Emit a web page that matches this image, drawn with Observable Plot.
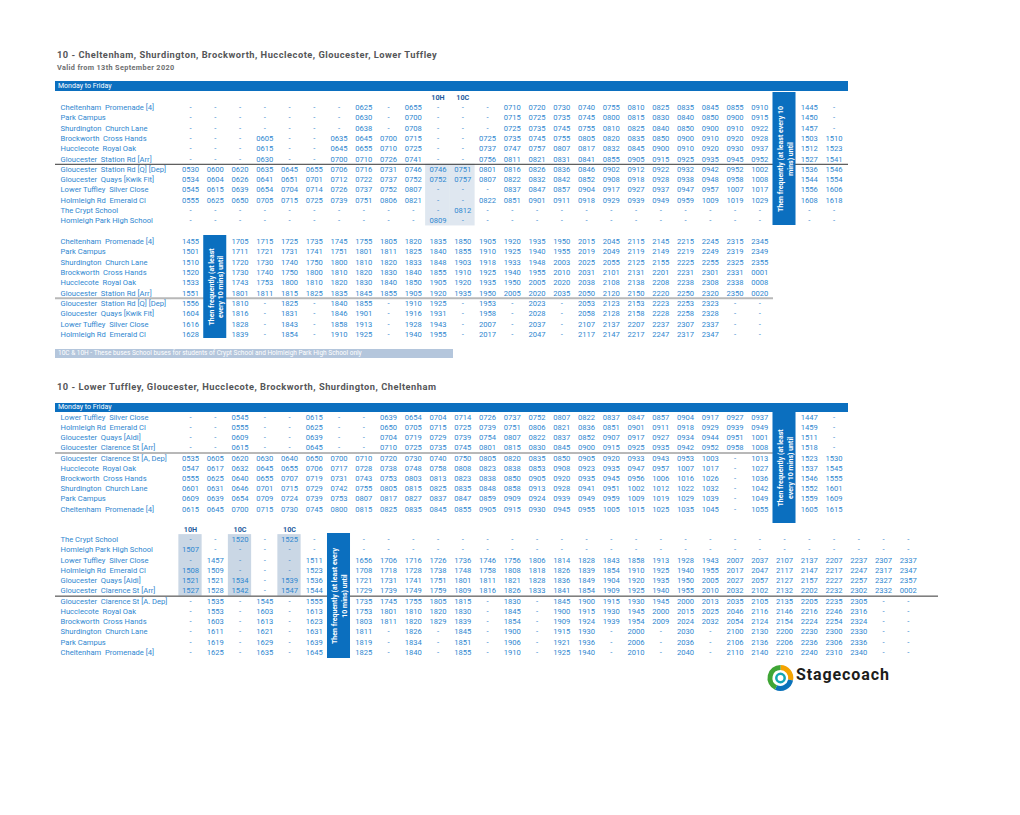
<!DOCTYPE html>
<html><head><meta charset="utf-8">
<script src="https://cdn.jsdelivr.net/npm/d3@7"></script>
<script src="https://cdn.jsdelivr.net/npm/@observablehq/plot@0.6"></script>
<style>
html,body{margin:0;padding:0;background:#fff;}
#page{position:relative;width:1020px;height:815px;overflow:hidden;font-family:Roboto,"Open Sans",sans-serif;}
.abs{position:absolute;white-space:nowrap;}
.title{left:57px;font-weight:700;font-size:9.3px;letter-spacing:0.5px;line-height:12px;color:#555658;}
.sub{left:57px;font-weight:700;font-size:7.3px;letter-spacing:0.35px;line-height:9px;color:#6d6e70;}
.band{left:55px;width:793px;background:#0b6fbf;color:#fff;font-size:7px;padding-left:3px;box-sizing:border-box;}
.note{left:55px;width:398px;height:9px;background:#b4c6dc;color:#fff;font-size:6.5px;line-height:9px;padding-left:3px;box-sizing:border-box;}
svg text{white-space:pre;}
.blk{position:absolute;left:0;}
</style></head><body><div id="page">
<div class="abs title" style="top:49px">10 - Cheltenham, Shurdington, Brockworth, Hucclecote, Gloucester, Lower Tuffley</div>
<div class="abs sub" style="top:62.8px">Valid from 13th September 2020</div>
<div class="abs band" style="top:81px;height:10px;line-height:10px">Monday to Friday</div>
<div class="abs note" style="top:349px">10C &amp; 10H - These buses School buses for students of Crypt School and Holmleigh Park High School only</div>
<div class="abs title" style="top:380.7px">10 - Lower Tuffley, Gloucester, Hucclecote, Brockworth, Shurdington, Cheltenham</div>
<div class="abs band" style="top:403px;height:9px;line-height:9px">Monday to Friday</div>
<svg class="abs" style="left:765px;top:663px" width="135" height="32" viewBox="0 0 135 32">
  <g fill="none" stroke-width="5">
    <path d="M 15.5 4.5 A 10.5 10.5 0 0 1 25.6 17" stroke="#f4a300"/>
    <path d="M 25.6 17 A 10.5 10.5 0 0 1 11 24.5" stroke="#0a72ba"/>
    <path d="M 11 24.5 A 10.5 10.5 0 0 1 15.5 4.5" stroke="#3fa535"/>
  </g>
  <circle cx="15.5" cy="15" r="4.2" fill="none" stroke="#12a5b5" stroke-width="2.5"/>
  <text x="31" y="17" font-family="Roboto" font-weight="700" font-size="16" letter-spacing="0.9" fill="#1d1d1b">Stagecoach</text>
</svg>
</div>
<script>
// ---------- Data ----------
const outStops = ["Cheltenham  Promenade [4]", "Park Campus", "Shurdington  Church Lane", "Brockworth  Cross Hands",
  "Hucclecote  Royal Oak", "Gloucester  Station Rd [Arr]", "Gloucester  Station Rd [Q] [Dep]", "Gloucester  Quays [Kwik Fit]",
  "Lower Tuffley  Silver Close", "Holmleigh Rd  Emerald Cl", "The Crypt School", "Homleigh Park High School"];
const outEveStops = outStops.slice(0, 10);
const inStops = ["Lower Tuffley  Silver Close", "Holmleigh Rd  Emerald Cl", "Gloucester  Quays [Aldi]", "Gloucester  Clarence St [Arr]",
  "Gloucester  Clarence St [A, Dep]", "Hucclecote  Royal Oak", "Brockworth  Cross Hands", "Shurdington  Church Lane",
  "Park Campus", "Cheltenham  Promenade [4]"];
const inEveStops = ["The Crypt School", "Homleigh Park High School", "Lower Tuffley  Silver Close", "Holmleigh Rd  Emerald Cl",
  "Gloucester  Quays [Aldi]", "Gloucester  Clarence St [Arr]", "Gloucester  Clarence St [A. Dep]", "Hucclecote  Royal Oak",
  "Brockworth  Cross Hands", "Shurdington  Church Lane", "Park Campus", "Cheltenham  Promenade [4]"];

const outDayTimes = [
  "- - - - - - - 0625 - 0655 - - - 0710 0720 0730 0740 0755 0810 0825 0835 0845 0855 0910 1445 -",
  "- - - - - - - 0630 - 0700 - - - 0715 0725 0735 0745 0800 0815 0830 0840 0850 0900 0915 1450 -",
  "- - - - - - - 0638 - 0708 - - - 0725 0735 0745 0755 0810 0825 0840 0850 0900 0910 0922 1457 -",
  "- - - 0605 - - 0635 0645 0700 0715 - - 0725 0735 0745 0755 0805 0820 0835 0850 0900 0910 0920 0928 1503 1510",
  "- - - 0615 - - 0645 0655 0710 0725 - - 0737 0747 0757 0807 0817 0832 0845 0900 0910 0920 0930 0937 1512 1523",
  "- - - 0630 - - 0700 0710 0726 0741 - - 0756 0811 0821 0831 0841 0855 0905 0915 0925 0935 0945 0952 1527 1541",
  "0530 0600 0620 0635 0645 0655 0706 0716 0731 0746 0746 0751 0801 0816 0826 0836 0846 0902 0912 0922 0932 0942 0952 1002 1536 1546",
  "0534 0604 0626 0641 0651 0701 0712 0722 0737 0752 0752 0757 0807 0822 0832 0842 0852 0908 0918 0928 0938 0948 0958 1008 1544 1554",
  "0545 0615 0639 0654 0704 0714 0726 0737 0752 0807 - - - 0837 0847 0857 0904 0917 0927 0937 0947 0957 1007 1017 1556 1606",
  "0555 0625 0650 0705 0715 0725 0739 0751 0806 0821 - - 0822 0851 0901 0911 0918 0929 0939 0949 0959 1009 1019 1029 1608 1618",
  "- - - - - - - - - - - 0812 - - - - - - - - - - - - - -",
  "- - - - - - - - - - 0809 - - - - - - - - - - - - - - -"
].map(r => r.split(" "));

const outEveTimes = [
  "1455 1705 1715 1725 1735 1745 1755 1805 1820 1835 1850 1905 1920 1935 1950 2015 2045 2115 2145 2215 2245 2315 2345",
  "1501 1711 1721 1731 1741 1751 1801 1811 1825 1840 1855 1910 1925 1940 1955 2019 2049 2119 2149 2219 2249 2319 2349",
  "1510 1720 1730 1740 1750 1800 1810 1820 1833 1848 1903 1918 1933 1948 2003 2025 2055 2125 2155 2225 2255 2325 2355",
  "1520 1730 1740 1750 1800 1810 1820 1830 1840 1855 1910 1925 1940 1955 2010 2031 2101 2131 2201 2231 2301 2331 0001",
  "1533 1743 1753 1800 1810 1820 1830 1840 1850 1905 1920 1935 1950 2005 2020 2038 2108 2138 2208 2238 2308 2338 0008",
  "1551 1801 1811 1815 1825 1835 1845 1855 1905 1920 1935 1950 2005 2020 2035 2050 2120 2150 2220 2250 2320 2350 0020",
  "1556 1810 - 1825 - 1840 1855 - 1910 1925 - 1953 - 2023 - 2053 2123 2153 2223 2253 2323 - -",
  "1604 1816 - 1831 - 1846 1901 - 1916 1931 - 1958 - 2028 - 2058 2128 2158 2228 2258 2328 - -",
  "1616 1828 - 1843 - 1858 1913 - 1928 1943 - 2007 - 2037 - 2107 2137 2207 2237 2307 2337 - -",
  "1628 1839 - 1854 - 1910 1925 - 1940 1955 - 2017 - 2047 - 2117 2147 2217 2247 2317 2347 - -"
].map(r => r.split(" "));

const inDayTimes = [
  "- - 0545 - - 0615 - - 0639 0654 0704 0714 0726 0737 0752 0807 0822 0837 0847 0857 0904 0917 0927 0937 1447 -",
  "- - 0555 - - 0625 - - 0650 0705 0715 0725 0739 0751 0806 0821 0836 0851 0901 0911 0918 0929 0939 0949 1459 -",
  "- - 0609 - - 0639 - - 0704 0719 0729 0739 0754 0807 0822 0837 0852 0907 0917 0927 0934 0944 0951 1001 1511 -",
  "- - 0615 - - 0645 - - 0710 0725 0735 0745 0801 0815 0830 0845 0900 0915 0925 0935 0942 0952 0958 1008 1518 -",
  "0535 0605 0620 0630 0640 0650 0700 0710 0720 0730 0740 0750 0805 0820 0835 0850 0905 0920 0933 0943 0953 1003 - 1013 1523 1530",
  "0547 0617 0632 0645 0655 0706 0717 0728 0738 0748 0758 0808 0823 0838 0853 0908 0923 0935 0947 0957 1007 1017 - 1027 1537 1545",
  "0555 0625 0640 0655 0707 0719 0731 0743 0753 0803 0813 0823 0838 0850 0905 0920 0935 0945 0956 1006 1016 1026 - 1036 1546 1555",
  "0601 0631 0646 0701 0715 0729 0742 0755 0805 0815 0825 0835 0848 0858 0913 0928 0941 0951 1002 1012 1022 1032 - 1042 1552 1601",
  "0609 0639 0654 0709 0724 0739 0753 0807 0817 0827 0837 0847 0859 0909 0924 0939 0949 0959 1009 1019 1029 1039 - 1049 1559 1609",
  "0615 0645 0700 0715 0730 0745 0800 0815 0825 0835 0845 0855 0905 0915 0930 0945 0955 1005 1015 1025 1035 1045 - 1055 1605 1615"
].map(r => r.split(" "));

const inEveTimes = [
  "- - 1520 - 1525 - - - - - - - - - - - - - - - - - - - - - - - -",
  "1507 - - - - - - - - - - - - - - - - - - - - - - - - - - - -",
  "- 1457 - - - 1511 1656 1706 1716 1726 1736 1746 1756 1806 1814 1828 1843 1858 1913 1928 1943 2007 2037 2107 2137 2207 2237 2307 2337",
  "1508 1509 - - - 1523 1708 1718 1728 1738 1748 1758 1808 1818 1826 1839 1854 1910 1925 1940 1955 2017 2047 2117 2147 2217 2247 2317 2347",
  "1521 1521 1534 - 1539 1536 1721 1731 1741 1751 1801 1811 1821 1828 1836 1849 1904 1920 1935 1950 2005 2027 2057 2127 2157 2227 2257 2327 2357",
  "1527 1528 1542 - 1547 1544 1729 1739 1749 1759 1809 1816 1826 1833 1841 1854 1909 1925 1940 1955 2010 2032 2102 2132 2202 2232 2302 2332 0002",
  "- 1535 - 1545 - 1555 1735 1745 1755 1805 1815 - 1830 - 1845 1900 1915 1930 1945 2000 2013 2035 2105 2135 2205 2235 2305 - -",
  "- 1553 - 1603 - 1613 1753 1801 1810 1820 1830 - 1845 - 1900 1915 1930 1945 2000 2015 2025 2046 2116 2146 2216 2246 2316 - -",
  "- 1603 - 1613 - 1623 1803 1811 1820 1829 1839 - 1854 - 1909 1924 1939 1954 2009 2024 2032 2054 2124 2154 2224 2254 2324 - -",
  "- 1611 - 1621 - 1631 1811 - 1826 - 1845 - 1900 - 1915 1930 - 2000 - 2030 - 2100 2130 2200 2230 2300 2330 - -",
  "- 1619 - 1629 - 1639 1819 - 1834 - 1851 - 1906 - 1921 1936 - 2006 - 2036 - 2106 2136 2206 2236 2306 2336 - -",
  "- 1625 - 1635 - 1645 1825 - 1840 - 1855 - 1910 - 1925 1940 - 2010 - 2040 - 2110 2140 2210 2240 2310 2340 - -"
].map(r => r.split(" "));

const outDayHeaders = [{col: 10, label: "10H"}, {col: 11, label: "10C"}];
const inEveHeaders = [{col: 0, label: "10H"}, {col: 2, label: "10C"}, {col: 4, label: "10C"}];
const freqTexts = ["Then frequently (at least every 10\nmins) until", "Then frequently (at least\nevery 10 mins) until",
  "Then frequently (at least\nevery 10 mins) until", "Then frequently (at least every\n10 mins) until"];

// ---------- Styles ----------
const BLUE = "#0b6fbf", TXT = "#2f87d0", HEAD = "#1f5d9e";

function block(o) {
  const cells = o.rows.flatMap((r, i) => r.map((v, t) => ({row: i, col: t < o.freqCol ? t : t + 1, v})));
  const marks = [];
  if (o.hiCols) marks.push(Plot.rect(o.hiCols, {x1: d => d - o.hiHalf, x2: d => d + o.hiHalf,
    y1: () => o.hiRows[0] - 0.5, y2: () => o.hiRows[1] + 0.5, fill: o.hiFill}));
  marks.push(Plot.ruleY([o.ruleAfter + 0.5], {stroke: o.ruleColor, strokeWidth: o.ruleWidth}));
  marks.push(Plot.rect([o.freqCol], {x1: d => d - 0.465, x2: d => d + 0.465, fill: BLUE}));
  marks.push(Plot.text([o.freqCol], {x: d => d, text: () => o.freqText, rotate: -90, fill: "white",
    fontWeight: "bold", fontSize: 7, lineHeight: 1.4}));
  marks.push(Plot.text(o.stops, {y: (d, i) => i, text: d => d, frameAnchor: "left", dx: 5, textAnchor: "start",
    fill: TXT, fontSize: 7.6}));
  if (o.headers) marks.push(Plot.text(o.headers, {x: "col", y: () => -1, text: "label", fill: HEAD, fontWeight: "bold", fontSize: 7.2}));
  marks.push(Plot.text(cells, {x: "col", y: "row", text: "v", fill: TXT, fontSize: 7.6}));
  const svg = Plot.plot({
    width: 1020, height: o.height,
    marginTop: o.mTop, marginBottom: o.mBottom, marginLeft: 55, marginRight: o.mRight,
    x: {type: "linear", domain: [0, 29], range: [190, 190 + 29 * 24.75], axis: null},
    y: {type: "linear", domain: [o.headers ? -1 : 0, o.stops.length - 1], range: o.yRange, axis: null},
    style: {background: "transparent", fontFamily: "Roboto, 'Open Sans', sans-serif", overflow: "visible"},
    marks
  });
  svg.classList.add("blk");
  svg.style.top = o.top + "px";
  document.getElementById("page").appendChild(svg);
}

block({stops: outStops, rows: outDayTimes, freqCol: 24, freqText: freqTexts[0], headers: outDayHeaders,
  hiCols: [10, 11], hiHalf: 0.5, hiRows: [6, 11], hiFill: "#dfe7f0", ruleAfter: 5, ruleColor: "#333", ruleWidth: 1,
  top: 92, height: 134, mTop: 0, mBottom: 1, mRight: 172, yRange: [5, 128.3]});
block({stops: outEveStops, rows: outEveTimes, freqCol: 1, freqText: freqTexts[1],
  ruleAfter: 5, ruleColor: "#b8b8b8", ruleWidth: 2,
  top: 232, height: 110, mTop: 3, mBottom: 4, mRight: 247, yRange: [9, 102]});
block({stops: inStops, rows: inDayTimes, freqCol: 24, freqText: freqTexts[2],
  ruleAfter: 3, ruleColor: "#b8b8b8", ruleWidth: 2,
  top: 412, height: 112, mTop: 0, mBottom: 1, mRight: 245, yRange: [4.7, 96.7]});
block({stops: inEveStops, rows: inEveTimes, freqCol: 6, freqText: freqTexts[3], headers: inEveHeaders,
  hiCols: [0, 2, 4], hiHalf: 0.47, hiRows: [0, 5], hiFill: "#cad7e5", ruleAfter: 5, ruleColor: "#333", ruleWidth: 1,
  top: 522, height: 140, mTop: 11, mBottom: 4, mRight: 82, yRange: [7, 130]});
</script>
</body></html>
